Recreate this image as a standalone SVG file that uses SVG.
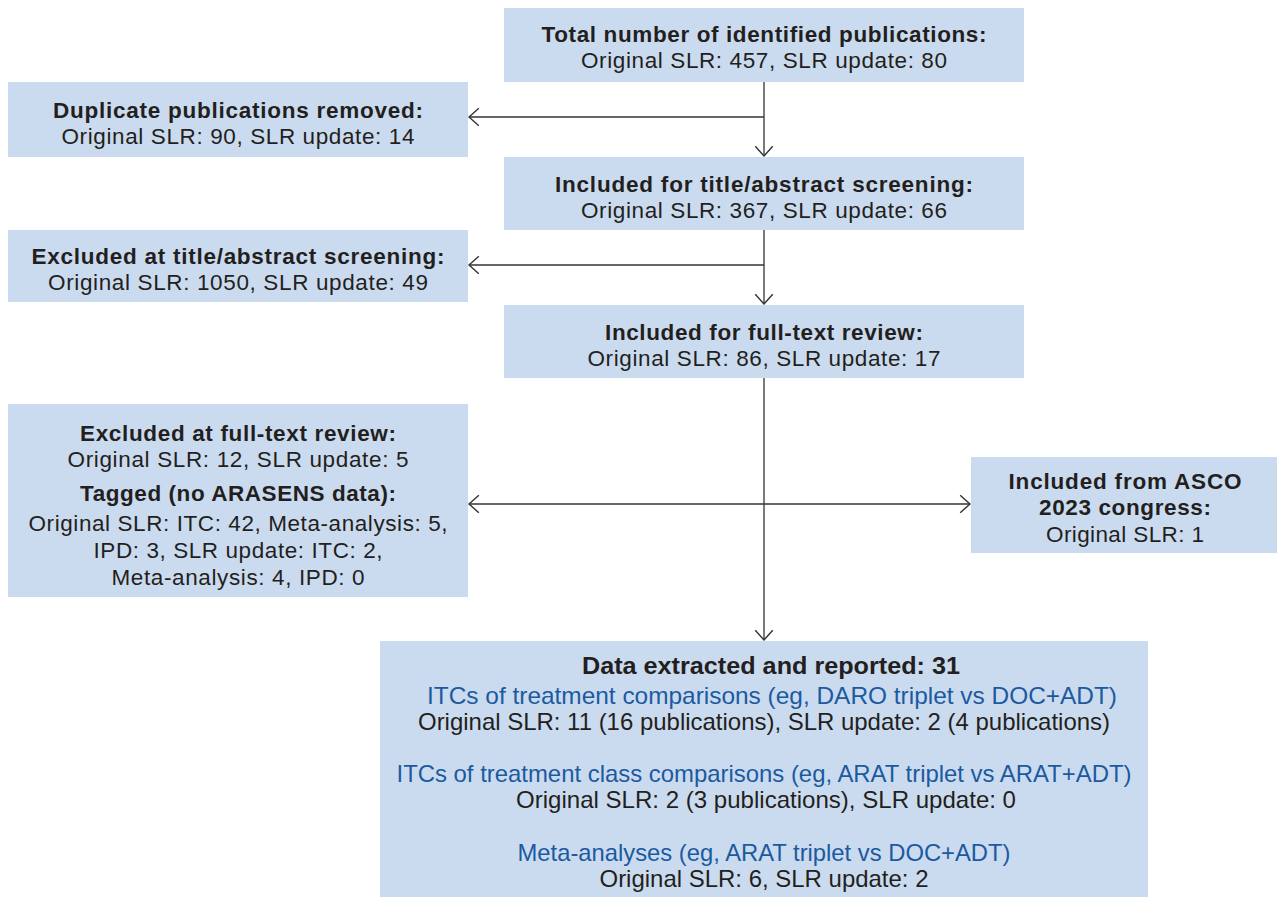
<svg xmlns="http://www.w3.org/2000/svg" width="1277" height="897" viewBox="0 0 1277 897">
<style>
.box{fill:#cbdbef;}
text{font-family:"Liberation Sans",Arial,sans-serif;font-size:22.5px;fill:#231f20;text-anchor:middle;}
.b{font-weight:bold;}
.blue{fill:#1c5aa0;}
.d text{font-size:24px;}
.c{stroke:#333;stroke-width:1.3;fill:none;}
</style>
<defs>
<marker id="ah" markerUnits="userSpaceOnUse" markerWidth="12" markerHeight="20" viewBox="0 0 11 18" refX="10" refY="9" orient="auto-start-reverse">
<path d="M1,1 L10,9 L1,17" fill="none" stroke="#333" stroke-width="1.3"/>
</marker>
</defs>
<rect width="1277" height="897" fill="#fff"/>
<g id="connectors">
<path class="c" d="M764,82 V156" marker-end="url(#ah)"/>
<path class="c" d="M764,117 H469" marker-end="url(#ah)"/>
<path class="c" d="M764,230 V304" marker-end="url(#ah)"/>
<path class="c" d="M764,265 H469" marker-end="url(#ah)"/>
<path class="c" d="M764,378 V640" marker-end="url(#ah)"/>
<path class="c" d="M469,504 H970" marker-start="url(#ah)" marker-end="url(#ah)"/>
</g>
<g id="n-total">
<rect class="box" x="504" y="8" width="520" height="74"/>
<text class="b" x="764" y="42" textLength="445">Total number of identified publications:</text>
<text x="764" y="68" textLength="366">Original SLR: 457, SLR update: 80</text>
</g>
<g id="n-duplicate">
<rect class="box" x="8" y="82" width="460" height="75"/>
<text class="b" x="238" y="118" textLength="370">Duplicate publications removed:</text>
<text x="238" y="144" textLength="353">Original SLR: 90, SLR update: 14</text>
</g>
<g id="n-title-screening">
<rect class="box" x="504" y="157" width="520" height="73"/>
<text class="b" x="764" y="192" textLength="418">Included for title/abstract screening:</text>
<text x="764" y="218" textLength="366">Original SLR: 367, SLR update: 66</text>
</g>
<g id="n-excluded-title">
<rect class="box" x="8" y="230" width="460" height="72"/>
<text class="b" x="238" y="264" textLength="413">Excluded at title/abstract screening:</text>
<text x="238" y="290" textLength="380">Original SLR: 1050, SLR update: 49</text>
</g>
<g id="n-fulltext">
<rect class="box" x="504" y="305" width="520" height="73"/>
<text class="b" x="764" y="340" textLength="318">Included for full-text review:</text>
<text x="764" y="366" textLength="353">Original SLR: 86, SLR update: 17</text>
</g>
<g id="n-excluded-fulltext">
<rect class="box" x="8" y="404" width="460" height="193"/>
<text class="b" x="238" y="441" textLength="316">Excluded at full-text review:</text>
<text x="238" y="467" textLength="341">Original SLR: 12, SLR update: 5</text>
<text class="b" x="238" y="501" textLength="316">Tagged (no ARASENS data):</text>
<text x="238" y="531" textLength="419">Original SLR: ITC: 42, Meta-analysis: 5,</text>
<text x="238" y="558" textLength="289">IPD: 3, SLR update: ITC: 2,</text>
<text x="238" y="585" textLength="253">Meta-analysis: 4, IPD: 0</text>
</g>
<g id="n-asco">
<rect class="box" x="971" y="457" width="306" height="96"/>
<text class="b" x="1125" y="489" textLength="233">Included from ASCO</text>
<text class="b" x="1125" y="515" textLength="172">2023 congress:</text>
<text x="1125" y="542" textLength="158">Original SLR: 1</text>
</g>
<g id="n-data" class="d">
<rect class="box" x="380" y="641" width="768" height="256"/>
<text class="b" x="771" y="674" textLength="378" lengthAdjust="spacingAndGlyphs">Data extracted and reported: 31</text>
<text class="blue" x="772" y="704" textLength="690" lengthAdjust="spacingAndGlyphs">ITCs of treatment comparisons (eg, DARO triplet vs DOC+ADT)</text>
<text x="764" y="730" textLength="692" lengthAdjust="spacingAndGlyphs">Original SLR: 11 (16 publications), SLR update: 2 (4 publications)</text>
<text class="blue" x="764" y="782" textLength="735" lengthAdjust="spacingAndGlyphs">ITCs of treatment class comparisons (eg, ARAT triplet vs ARAT+ADT)</text>
<text x="766" y="808" textLength="500" lengthAdjust="spacingAndGlyphs">Original SLR: 2 (3 publications), SLR update: 0</text>
<text class="blue" x="764" y="861" textLength="493" lengthAdjust="spacingAndGlyphs">Meta-analyses (eg, ARAT triplet vs DOC+ADT)</text>
<text x="764" y="887" textLength="329" lengthAdjust="spacingAndGlyphs">Original SLR: 6, SLR update: 2</text>
</g>
</svg>
